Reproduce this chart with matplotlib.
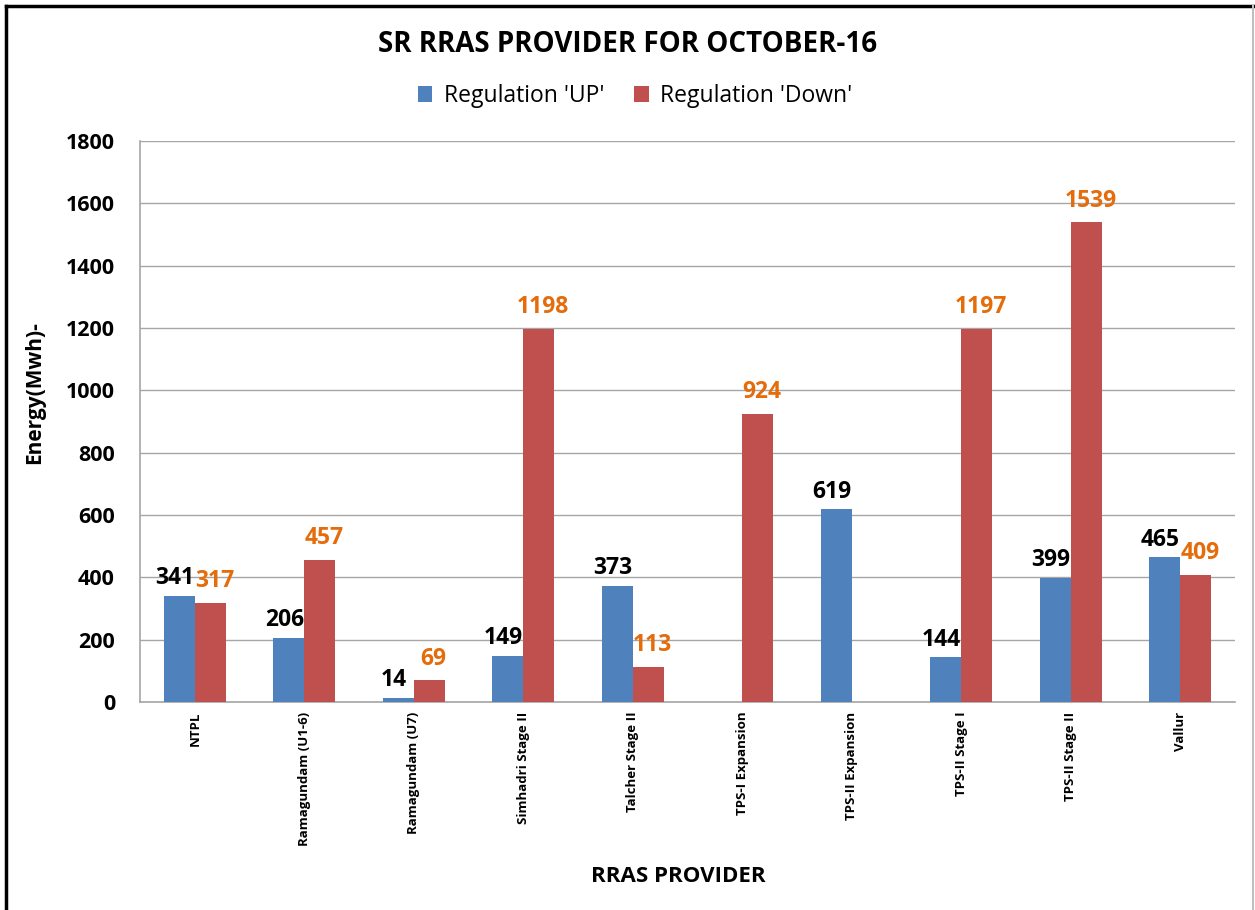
import numpy as np
import matplotlib.pyplot as plt
from matplotlib.lines import Line2D

# data
providers = ['NTPL', 'Ramagundam (U1-6)', 'Ramagundam (U7)', 'Simhadri Stage II',
             'Talcher Stage II', 'TPS-I Expansion', 'TPS-II Expansion',
             'TPS-II Stage I', 'TPS-II Stage II', 'Vallur']
reg_up = [341, 206, 14, 149, 373, 0, 619, 144, 399, 465]
reg_down = [317, 457, 69, 1198, 113, 924, 0, 1197, 1539, 409]
y_ticks = [0, 200, 400, 600, 800, 1000, 1200, 1400, 1600, 1800]

blue = '#4F81BD'
red = '#C0504D'
orange = '#E46C0A'
grid_col = '#A6A6A6'
font = ['Open Sans', 'DejaVu Sans']
plt.rcParams['font.family'] = font

fig = plt.figure(figsize=(12.55, 9.10), dpi=100)
ax = fig.add_axes([140 / 1255, 208 / 910, 1095 / 1255, 561 / 910])

x = np.arange(len(providers))
w = 0.285
b1 = ax.bar(x - w / 2, reg_up, w, color=blue, label="Regulation 'UP'", zorder=3)
b2 = ax.bar(x + w / 2, reg_down, w, color=red, label="Regulation 'Down'", zorder=3)

# data labels, skip the zero bars
for rect, v in zip(b1, reg_up):
    if v:
        ax.annotate(str(v), (rect.get_x() + rect.get_width() / 2, v),
                    xytext=(-3, 4), textcoords='offset points', ha='center', va='bottom',
                    fontsize=16.5, fontweight='bold', color='black', zorder=4)
for rect, v in zip(b2, reg_down):
    if v:
        ax.annotate(str(v), (rect.get_x() + rect.get_width() / 2, v),
                    xytext=(3, 7), textcoords='offset points', ha='center', va='bottom',
                    fontsize=16.5, fontweight='bold', color=orange, zorder=4)

ax.set_xlim(-0.5, len(providers) - 0.5)
ax.set_ylim(0, 1800)
ax.set_yticks(y_ticks)
ax.set_yticklabels([str(t) for t in y_ticks], fontsize=15.5, fontweight='bold')
ax.set_xticks(x)
ax.set_xticklabels(providers, rotation=90, fontsize=9.5, fontweight='bold', va='top')
ax.tick_params(axis='both', length=0)
ax.tick_params(axis='y', pad=18)
ax.tick_params(axis='x', pad=7)
ax.yaxis.grid(True, color=grid_col, linewidth=1, zorder=0)
ax.set_axisbelow(True)
for s in ['top', 'right']:
    ax.spines[s].set_visible(False)
for s in ['left', 'bottom']:
    ax.spines[s].set_color(grid_col)
    ax.spines[s].set_linewidth(1.2)

fig.text(628 / 1255, 1 - 45 / 910, 'SR RRAS PROVIDER FOR OCTOBER-16', ha='center', va='center',
         fontsize=20, fontweight='bold')
fig.text(35 / 1255, 1 - 393 / 910, 'Energy(Mwh)-', rotation=90, ha='center', va='center',
         fontsize=15, fontweight='bold')
fig.text(678 / 1255, 1 - 877 / 910, 'RRAS PROVIDER', ha='center', va='center',
         fontsize=16, fontweight='bold')

fig.legend(handles=[b1, b2], loc='center', bbox_to_anchor=(635 / 1255, 1 - 96 / 910),
           ncol=2, frameon=False, fontsize=16.5, handlelength=0.65, handleheight=0.65,
           columnspacing=1.3, handletextpad=0.5)

# frame around the whole chart
fig.add_artist(Line2D([6 / 1255, 6 / 1255], [0, 1 - 6 / 910], color='black', lw=2.5,
                      transform=fig.transFigure))
fig.add_artist(Line2D([6 / 1255, 1254 / 1255], [1 - 6 / 910, 1 - 6 / 910], color='black',
                      lw=2.5, transform=fig.transFigure))
fig.add_artist(Line2D([1253 / 1255, 1253 / 1255], [0, 1 - 6 / 910], color='#BFBFBF', lw=1.5,
                      transform=fig.transFigure))

fig.savefig('out.png', dpi=100)
